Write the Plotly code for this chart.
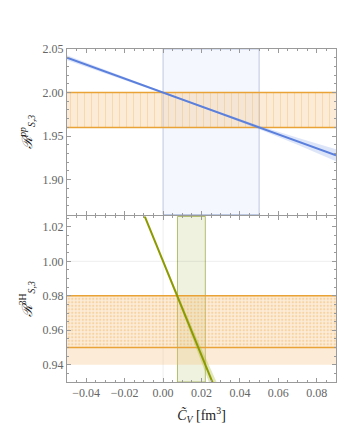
import numpy as np
import plotly.graph_objects as go
from plotly.subplots import make_subplots

# ---------------- data ----------------
CV_RANGE = [-0.05, 0.09]
PP_YRANGE = [1.86, 2.05]
H3_YRANGE = [0.93, 1.026]

X_TICKS = [-0.04, -0.02, 0.00, 0.02, 0.04, 0.06, 0.08]
PP_TICKS = [1.90, 1.95, 2.00, 2.05]
H3_TICKS = [0.94, 0.96, 0.98, 1.00, 1.02]

PP_EXP = [1.96, 2.00]            # experimental band, pp
H3_EXP_OUTER = [0.94, 0.98]      # experimental band, 3H (full)
H3_EXP_INNER = [0.95, 0.98]      # experimental band, 3H (hatched)
PP_CV_BAND = [0.0, 0.05]         # allowed C_V interval from pp
H3_CV_BAND = [0.0075, 0.022]     # allowed C_V interval from 3H
H3_GRID_Y = [1.00]
H3_GRID_X = [0.00]

PP_X = [-0.05, 0.0, 0.025, 0.05, 0.07, 0.09]
PP_C = [2.040, 2.000, 1.980, 1.960, 1.944, 1.928]
PP_LO = [2.0372, 1.999, 1.979, 1.958, 1.940, 1.921]
PP_HI = [2.0428, 2.001, 1.981, 1.962, 1.948, 1.935]

H3_X = [-0.012, 0.0, 0.01, 0.02, 0.028]
H3_C = [1.0328, 1.000, 0.9727, 0.9454, 0.9236]
H3_LO = [1.0323, 0.999, 0.9707, 0.9414, 0.9176]
H3_HI = [1.0333, 1.001, 0.9747, 0.9494, 0.9296]

# ---------------- style ----------------
ORANGE = "#e8a235"
BLUE = "#5a7fdc"
OLIVE = "#8c9a00"
FRAME = "#9a9a9a"
PEACH = "rgba(245,190,120,0.30)"
SERIF = "Liberation Serif, DejaVu Serif, serif"

fig = make_subplots(rows=2, cols=1, shared_xaxes=True, vertical_spacing=0.006)


def hband(lo, hi, row, fillcolor, pattern=None, border=True):
    xs = [CV_RANGE[0], CV_RANGE[1], CV_RANGE[1], CV_RANGE[0], CV_RANGE[0]]
    ys = [lo, lo, hi, hi, lo]
    kw = {}
    if pattern:
        kw["fillpattern"] = pattern
    fig.add_trace(go.Scatter(x=xs, y=ys, mode="none", fill="toself", fillcolor=fillcolor,
                             hoverinfo="skip", showlegend=False, **kw), row=row, col=1)
    if border:
        for yv in (lo, hi):
            fig.add_trace(go.Scatter(x=CV_RANGE, y=[yv, yv], mode="lines",
                                     line=dict(color=ORANGE, width=1.5),
                                     hoverinfo="skip", showlegend=False), row=row, col=1)


# top panel
hband(PP_EXP[0], PP_EXP[1], 1, PEACH,
      pattern=dict(shape="|", fgcolor="rgba(235,165,60,0.55)", bgcolor=PEACH,
                   size=7, solidity=0.14, fillmode="overlay"))
fig.add_trace(go.Scatter(x=PP_X + PP_X[::-1], y=PP_HI + PP_LO[::-1], mode="none", fill="toself",
                         fillcolor="rgba(120,150,230,0.25)", hoverinfo="skip", showlegend=False),
              row=1, col=1)
fig.add_trace(go.Scatter(x=PP_X, y=PP_C, mode="lines", line=dict(color=BLUE, width=2),
                         showlegend=False), row=1, col=1)

# bottom panel
hband(H3_EXP_OUTER[0], H3_EXP_OUTER[1], 2, PEACH, border=False)
hband(H3_EXP_INNER[0], H3_EXP_INNER[1], 2, "rgba(0,0,0,0)",
      pattern=dict(shape=".", fgcolor="rgba(235,165,60,0.7)", bgcolor="rgba(0,0,0,0)",
                   size=3.5, solidity=0.3, fillmode="overlay"))
fig.add_trace(go.Scatter(x=H3_X + H3_X[::-1], y=H3_HI + H3_LO[::-1], mode="none", fill="toself",
                         fillcolor="rgba(170,185,60,0.35)", hoverinfo="skip", showlegend=False),
              row=2, col=1)
fig.add_trace(go.Scatter(x=H3_X, y=H3_C, mode="lines", line=dict(color=OLIVE, width=2),
                         showlegend=False), row=2, col=1)

# vertical C_V bands and faint grid (added after traces so subplots are not empty)
fig.add_vrect(x0=PP_CV_BAND[0], x1=PP_CV_BAND[1], row=1, col=1,
              fillcolor="rgba(175,195,245,0.14)", line=dict(color="rgba(130,150,200,0.5)", width=1),
              layer="below")
fig.add_vrect(x0=H3_CV_BAND[0], x1=H3_CV_BAND[1], row=2, col=1,
              fillcolor="rgba(195,205,130,0.25)", line=dict(color="rgba(150,165,60,0.7)", width=1),
              layer="below")
for gy in H3_GRID_Y:
    fig.add_hline(y=gy, row=2, col=1, line=dict(color="rgba(0,0,0,0.07)", width=1), layer="below")
for gx in H3_GRID_X:
    fig.add_vline(x=gx, row=2, col=1, line=dict(color="rgba(0,0,0,0.07)", width=1), layer="below")

axis_common = dict(showline=True, linecolor=FRAME, linewidth=1, mirror="allticks",
                   ticks="inside", ticklen=4, tickcolor=FRAME, showgrid=False, zeroline=False,
                   automargin=False,
                   tickfont=dict(family=SERIF, size=12, color="#666"))

fig.update_xaxes(range=CV_RANGE, tickvals=X_TICKS, tickformat=".2f",
                 minor=dict(ticks="inside", ticklen=2, tickcolor=FRAME, dtick=0.005, tick0=0),
                 **axis_common)
fig.update_xaxes(showticklabels=False, row=1, col=1)
fig.update_xaxes(showticklabels=True, row=2, col=1)

fig.update_yaxes(range=PP_YRANGE, tickvals=PP_TICKS, tickformat=".2f",
                 minor=dict(ticks="inside", ticklen=2, tickcolor=FRAME, dtick=0.01, tick0=0),
                 row=1, col=1, **axis_common)
fig.update_yaxes(range=H3_YRANGE, tickvals=H3_TICKS, tickformat=".2f",
                 minor=dict(ticks="inside", ticklen=2, tickcolor=FRAME, dtick=0.005, tick0=0),
                 row=2, col=1, **axis_common)

title_font = dict(family=SERIF, size=14, color="#222")
fig.update_yaxes(title=dict(text="<i>ℛ</i><sup><i>pp</i></sup><sub><i>S,3</i></sub>",
                            font=title_font, standoff=6), row=1, col=1)
fig.update_yaxes(title=dict(text="<i>ℛ</i><sup>3H</sup><sub><i>S,3</i></sub>",
                            font=title_font, standoff=6), row=2, col=1)
fig.update_xaxes(title=dict(text="<i>C̃</i><sub><i>V</i></sub> [fm<sup>3</sup>]",
                            font=title_font, standoff=10), row=2, col=1)

# page body has an 8px margin, so the figure is offset by 8px in the window
fig.update_layout(width=345, height=424, margin=dict(l=59, r=17, t=41, b=50),
                  paper_bgcolor="white", plot_bgcolor="white", showlegend=False)

fig.write_html("out.html")
